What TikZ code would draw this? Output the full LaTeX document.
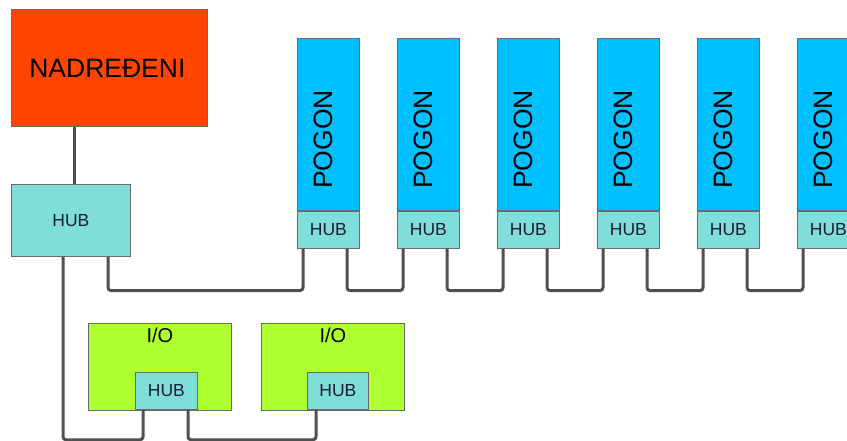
\documentclass[tikz,border=0pt]{standalone}
\usepackage{fontspec}
\setmainfont{Liberation Sans}
\usetikzlibrary{calc}

\definecolor{masterred}{HTML}{FF4500}
\definecolor{driveblue}{HTML}{00BFFF}
\definecolor{hubcyan}{HTML}{7FDEDA}
\definecolor{iogreen}{HTML}{ADFF2F}
\definecolor{wiregray}{HTML}{505050}
\definecolor{edgegray}{HTML}{6A6A6A}
\definecolor{hubtext}{HTML}{1A1A3C}

\tikzset{
	box/.style = {draw = edgegray, line width = 0.8pt, inner sep = 0pt, anchor = north west},
	hub/.style = {box, fill = hubcyan, text = hubtext, font = \fontsize{17.5}{17.5}\selectfont},
	wire/.style = {draw = wiregray, line width = 3pt, rounded corners = 3pt},
}

\begin{document}
\begin{tikzpicture}[x = 1pt, y = -1pt]
	\useasboundingbox (0,0) rectangle (847,441);
	\clip (0,0) rectangle (847,441);
	
	% master and its hub
	\node [box, fill = masterred, minimum width = 196pt, minimum height = 117pt] (master) at (11,9) {};
	\node [font = \fontsize{26.5}{26.5}\selectfont] (mastertext) at ($(master.center) + (-2,0)$) {NADREĐENI};
	\node [hub, minimum width = 119pt, minimum height = 72pt] (mainhub) at (11,184) {HUB};
	
	% drives
	\foreach \i in {1,...,6} {
		\pgfmathsetmacro{\px}{297 + 100*(\i - 1)}
		\node [box, fill = driveblue, minimum width = 62pt, minimum height = 172pt] (pogon\i) at (\px,38) {};
		\node [rotate = 90, font = \fontsize{26.5}{26.5}\selectfont] (pogontext\i) at ($(pogon\i.center) + (-5,15)$) {POGON};
		\node [hub, minimum width = 62pt, minimum height = 37pt] (pogonhub\i) at (pogon\i.south west) {HUB};
	}
	
	% I/O modules
	\node [box, fill = iogreen, minimum width = 143pt, minimum height = 87pt] (io1) at (88,323) {};
	\node [box, fill = iogreen, minimum width = 143pt, minimum height = 87pt] (io2) at (261,323) {};
	\node [font = \fontsize{20}{20}\selectfont] (iotext1) at ($(io1.north) + (0,12)$) {I/O};
	\node [font = \fontsize{20}{20}\selectfont] (iotext2) at ($(io2.north) + (0,12)$) {I/O};
	\node [hub, minimum width = 62pt, minimum height = 37pt] (iohub1) at (135,372) {HUB};
	\node [hub, minimum width = 61pt, minimum height = 37pt] (iohub2) at (307,372) {HUB};
	
	% wires
	\draw [wire] ($(master.south west) + (63,0)$) -- ($(mainhub.north west) + (63,0)$);
	\draw [wire] ($(mainhub.south west) + (97,0)$) |- ($(pogonhub1.south west) + (6,42)$) -- ($(pogonhub1.south west) + (6,0)$);
	\foreach \i [evaluate = \i as \j using int(\i + 1)] in {1,...,5}
		\draw [wire] ($(pogonhub\i.south west) + (50,0)$) -- ++(0,42) -| ($(pogonhub\j.south west) + (6,0)$);
	\draw [wire] ($(mainhub.south west) + (52,0)$) |- ($(iohub1.south west) + (8,30)$) -- ($(iohub1.south west) + (8,0)$);
	\draw [wire] ($(iohub1.south west) + (53,0)$) |- ($(iohub2.south west) + (9,30)$) -- ($(iohub2.south west) + (9,0)$);
\end{tikzpicture}
\end{document}
